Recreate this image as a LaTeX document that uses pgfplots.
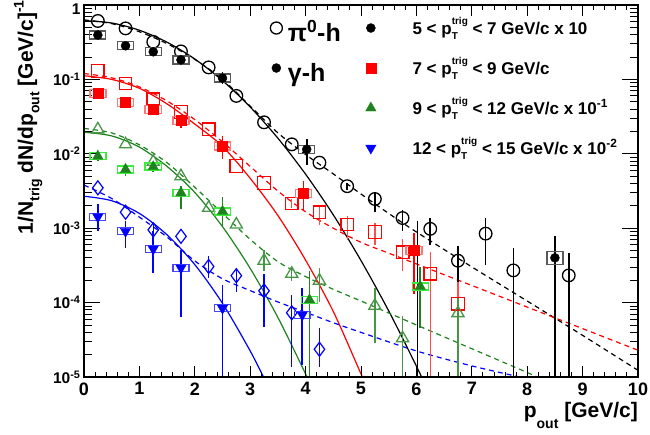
\documentclass[border=0pt]{standalone}
\usepackage{fontspec}
\setmainfont{Liberation Sans}
\usepackage{pgfplots}
\pgfplotsset{compat=1.18}
\definecolor{rgreen}{RGB}{30,130,30}
\definecolor{lgreen}{RGB}{70,150,70}
\definecolor{limebox}{RGB}{60,235,60}
\definecolor{pinkbox}{RGB}{255,120,120}
\definecolor{graybox}{RGB}{90,90,90}
\definecolor{bluebox}{RGB}{70,70,255}
\pgfdeclareplotmark{sysbox}{%
  \pgfpathrectangle{\pgfpoint{-8pt}{-\pgfplotmarksize}}{\pgfpoint{16pt}{2\pgfplotmarksize}}%
  \pgfusepathqstroke}
\newcommand{\ptt}{p\rlap{\raisebox{-0.35em}{\fontsize{10}{10}\selectfont T}}\raisebox{0.55em}{\fontsize{10}{10}\selectfont trig}}
\begin{document}
\begin{tikzpicture}
\begin{axis}[
  name=ax, at={(0,0)}, anchor=south west,
  scale only axis, width=554pt, height=372pt,
  xmin=0, xmax=10, ymin=1e-5, ymax=1, ymode=log,
  axis line style={line width=1.6pt},
  xtick=\empty,
  ytick={1e-5,1e-4,1e-3,1e-2,1e-1,1},
  yticklabels={10\textsuperscript{-5},10\textsuperscript{-4},10\textsuperscript{-3},10\textsuperscript{-2},10\textsuperscript{-1},\smash{\raisebox{-9.5pt}{1}}},
  yticklabel style={font=\fontsize{15.5}{17}\selectfont\bfseries},
  tick align=inside, major tick length=16pt, minor tick length=8pt,
  tick style={black, line width=0.9pt},
  ylabel={1/N\raisebox{-0.3em}{\fontsize{14}{14}\selectfont trig} dN/dp\raisebox{-0.3em}{\fontsize{14}{14}\selectfont out} [GeV/c]\raisebox{0.45em}{\fontsize{14}{14}\selectfont -1}},
  ylabel style={at={(axis description cs:-0.0921,1.0134)}, anchor=base east, inner sep=0pt, font=\fontsize{21}{23}\selectfont\bfseries},
  legend columns=2,
  legend cell align=left,
  legend image code/.code={\draw[#1] plot coordinates {(0pt,0pt)};},
  legend style={at={(axis description cs:0.3364,0.9919)}, anchor=north west,
    draw=none, fill=none, inner sep=0pt, outer sep=0pt, column sep=3.5pt, row sep=0pt,
    nodes={inner sep=0pt, text height=26pt, text depth=14pt, font=\fontsize{17}{18}\selectfont\bfseries}},
]
% ---------- legend ----------
\addlegendimage{only marks, mark=o, mark size=6pt, black, line width=1.3pt}
\addlegendentry[text height=33.4pt, text depth=6.6pt, font=\fontsize{25}{26}\selectfont\bfseries]{\makebox[76.3pt][l]{\hspace*{2pt}π\textsuperscript{0}-h}}
\addlegendimage{only marks, mark=*, mark size=4.5pt, black}
\addlegendentry{\hspace*{33pt}5 < \ptt{} < 7 GeV/c x 10}
\addlegendimage{only marks, mark=*, mark size=4.5pt, black}
\addlegendentry[text height=33.4pt, text depth=6.6pt, font=\fontsize{25}{26}\selectfont\bfseries]{\hspace*{2pt}γ-h}
\addlegendimage{only marks, mark=square*, mark size=5pt, red}
\addlegendentry{\hspace*{33pt}7 < \ptt{} < 9 GeV/c}
\addlegendimage{empty legend}
\addlegendentry{}
\addlegendimage{only marks, mark=triangle*, mark size=6pt, rgreen}
\addlegendentry{\hspace*{33pt}9 < \ptt{} < 12 GeV/c x 10\textsuperscript{-1}}
\addlegendimage{empty legend}
\addlegendentry{}
\addlegendimage{only marks, mark=triangle*, mark size=6pt, blue, mark options={rotate=180}}
\addlegendentry{\hspace*{33pt}12 < \ptt{} < 15 GeV/c x 10\textsuperscript{-2}}

% ---------- fit curves ----------
% black
\addplot[forget plot, black, line width=1.2pt, smooth] table[row sep=\\]{
x y\\ 0 0.617\\ 0.5 0.573\\ 1 0.458\\ 1.5 0.316\\ 2 0.188\\ 2.5 0.0964\\ 3 0.0426\\ 3.5 0.0162\\ 4 0.00532\\ 4.5 0.00151\\ 5 0.000367\\ 5.5 0.0000773\\ 6 0.0000140\\ 6.3 0.0000047\\};
\addplot[forget plot, black, line width=1.2pt, dash pattern=on 5pt off 4pt, smooth] table[row sep=\\]{
x y\\ 0 0.631\\ 0.5 0.562\\ 1 0.437\\ 1.5 0.302\\ 2 0.186\\ 2.5 0.100\\ 3 0.0437\\ 3.5 0.0191\\ 4 0.00977\\ 4.5 0.00537\\ 5 0.00288\\ 5.5 0.00158\\ 6 0.00089\\ 7 0.000302\\ 8 0.000105\\ 9 0.0000363\\ 10 0.0000123\\};
% red
\addplot[forget plot, red, line width=1.2pt, smooth] table[row sep=\\]{
x y\\ 0 0.112\\ 0.5 0.100\\ 1 0.0759\\ 1.5 0.0468\\ 2 0.0251\\ 2.5 0.0126\\ 3 0.00468\\ 3.5 0.00148\\ 4 0.000372\\ 4.5 0.0000759\\ 5 0.0000110\\ 5.1 0.0000076\\};
\addplot[forget plot, red, line width=1.2pt, dash pattern=on 5pt off 4pt, smooth] table[row sep=\\]{
x y\\ 0 0.120\\ 0.5 0.105\\ 1 0.0794\\ 1.5 0.0513\\ 2 0.0288\\ 2.5 0.0145\\ 3 0.00676\\ 3.5 0.00316\\ 4 0.00166\\ 4.5 0.00100\\ 5 0.000646\\ 5.5 0.000462\\ 6 0.000331\\ 7 0.000170\\ 8 0.0000871\\ 9 0.0000447\\ 10 0.0000229\\};
% green
\addplot[forget plot, rgreen, line width=1.2pt, smooth] table[row sep=\\]{
x y\\ 0 0.0195\\ 0.5 0.0174\\ 1 0.0123\\ 1.5 0.00676\\ 2 0.00302\\ 2.5 0.00105\\ 3 0.000288\\ 3.5 0.0000631\\ 4 0.0000110\\ 4.1 0.0000076\\};
\addplot[forget plot, rgreen, line width=1.2pt, dash pattern=on 5pt off 4pt, smooth] table[row sep=\\]{
x y\\ 0 0.0219\\ 0.5 0.0191\\ 1 0.0132\\ 1.5 0.00759\\ 2 0.00355\\ 2.5 0.00158\\ 3 0.000708\\ 3.5 0.000355\\ 4 0.000224\\ 4.5 0.000151\\ 5 0.000105\\ 6 0.0000501\\ 7 0.0000240\\ 8 0.0000115\\ 8.3 0.0000091\\};
% blue
\addplot[forget plot, blue, line width=1.2pt, smooth] table[row sep=\\]{
x y\\ 0 0.00269\\ 0.5 0.00234\\ 1 0.00158\\ 1.5 0.000813\\ 2 0.000324\\ 2.5 0.0000977\\ 3 0.0000224\\ 3.3 0.0000081\\};
\addplot[forget plot, blue, line width=1.2pt, dash pattern=on 5pt off 4pt, smooth] table[row sep=\\]{
x y\\ 0 0.00380\\ 0.5 0.00251\\ 1 0.00141\\ 1.5 0.000759\\ 2 0.000363\\ 2.5 0.000209\\ 3 0.000145\\ 3.5 0.000102\\ 4 0.0000741\\ 4.5 0.0000537\\ 5 0.0000398\\ 6 0.0000224\\ 7 0.0000141\\ 8 0.0000095\\};

% ---------- pi0-h (open markers) ----------
\addplot[forget plot, only marks, mark=o, mark size=6.3pt, black, line width=1.3pt,
  error bars/.cd, y dir=both, y explicit, error mark=none, error bar style={line width=1.6pt, black}]
  table[row sep=\\, x=x, y=y, y error plus=ep, y error minus=em]{
x y ep em\\
0.25 0.61 0 0\\ 0.75 0.485 0 0\\ 1.25 0.32 0 0\\ 1.75 0.238 0 0\\ 2.25 0.145 0 0\\ 2.75 0.060 0 0\\
3.25 0.0265 0 0\\ 3.75 0.0134 0 0\\ 4.25 0.0076 0 0\\ 4.75 0.00367 0.0004 0.0004\\
5.25 0.00247 0.00055 0.0008\\ 5.75 0.00137 0.00041 0.00046\\ 6.25 0.00098 0.00041 0.00038\\
6.75 0.000366 0.000204 0.000365\\ 7.25 0.000845 0.000545 0.000522\\ 7.75 0.000271 0.000277 0.00027\\
8.75 0.000232 0.000237 0.000231\\};
\addplot[forget plot, only marks, mark=square, mark size=6.3pt, red, line width=1.3pt,
  error bars/.cd, y dir=both, y explicit, error mark=none, error bar style={line width=1.3pt, red!70}]
  table[row sep=\\, x=x, y=y, y error plus=ep, y error minus=em]{
x y ep em\\
0.25 0.130 0 0\\ 0.75 0.0881 0 0\\ 1.25 0.054 0 0\\ 1.75 0.0365 0 0\\ 2.25 0.0213 0 0\\ 2.75 0.00683 0 0\\
3.25 0.00404 0 0\\ 3.75 0.00215 0.0003 0.0003\\ 4.25 0.00164 0.00044 0.00052\\ 4.75 0.00112 0.00032 0.00042\\
5.25 0.00089 0.0003 0.00029\\ 5.75 0.000476 0.000244 0.000214\\ 6.25 0.000244 0.000229 0.000243\\
6.75 0.0000964 0.00009 0.0000954\\};
\addplot[forget plot, only marks, mark=triangle, mark size=7pt, lgreen, line width=1.3pt,
  error bars/.cd, y dir=both, y explicit, error mark=none, error bar style={line width=1.3pt, lgreen}]
  table[row sep=\\, x=x, y=y, y error plus=ep, y error minus=em]{
x y ep em\\
0.25 0.0213 0 0\\ 0.75 0.0134 0 0\\ 1.25 0.0078 0 0\\ 1.75 0.0050 0 0\\ 2.25 0.00188 0 0\\ 2.75 0.00112 0 0\\
3.25 0.000366 0.00015 0.0001\\ 3.75 0.000244 0.00006 0.00005\\ 4.25 0.000197 0.000097 0.000094\\
5.25 0.0000906 0.000067 0.000062\\ 5.75 0.0000332 0.0000332 0.0000322\\ 6.75 0.0000722 0.000043 0.0000712\\};
\addplot[forget plot, only marks, mark=diamond, mark size=7pt, blue, line width=1.2pt,
  error bars/.cd, y dir=both, y explicit, error mark=none, error bar style={line width=1.3pt, blue}]
  table[row sep=\\, x=x, y=y, y error plus=ep, y error minus=em]{
x y ep em\\
0.25 0.00349 0 0\\ 0.75 0.00164 0 0\\ 1.25 0.00095 0.0002 0.0002\\ 1.75 0.000778 0 0\\
2.25 0.000306 0.000113 0.00009\\ 2.75 0.00023 0.000046 0.000089\\ 3.25 0.000144 0.000096 0.0000964\\
3.75 0.000073 0.000054 0.0000592\\ 4.25 0.0000236 0.0000221 0.0000098\\};

% ---------- gamma-h systematic boxes ----------
\addplot[forget plot, only marks, mark=sysbox, mark size=4pt, graybox, line width=1.3pt] table[row sep=\\]{
x y\\ 0.25 0.395\\ 0.75 0.283\\ 1.25 0.235\\ 1.75 0.183\\ 2.5 0.104\\ 4.02 0.0115\\};
\addplot[forget plot, only marks, mark=sysbox, mark size=6.5pt, graybox, line width=1.3pt] table[row sep=\\]{
x y\\ 8.5 0.0004\\};
\addplot[forget plot, only marks, mark=sysbox, mark size=4pt, pinkbox, line width=1.5pt] table[row sep=\\]{
x y\\ 0.25 0.0646\\ 0.75 0.0489\\ 1.25 0.0396\\ 1.75 0.0282\\ 2.5 0.0127\\ 3.96 0.00292\\ 5.96 0.000499\\};
\addplot[forget plot, only marks, mark=sysbox, mark size=3.5pt, limebox, line width=1.5pt] table[row sep=\\]{
x y\\ 0.25 0.0093\\ 0.75 0.00617\\ 1.25 0.0067\\ 1.75 0.00299\\ 2.5 0.00169\\ 4.07 0.000109\\ 6.07 0.000165\\};
\addplot[forget plot, only marks, mark=sysbox, mark size=3.5pt, bluebox, line width=1.3pt] table[row sep=\\]{
x y\\ 0.25 0.00142\\ 0.75 0.000909\\ 1.25 0.000526\\ 1.75 0.000292\\ 2.5 0.0000843\\ 3.94 0.0000685\\};

% ---------- gamma-h (filled markers) ----------
\addplot[forget plot, only marks, mark=*, mark size=4.5pt, black,
  error bars/.cd, y dir=both, y explicit, error mark=none, error bar style={line width=1.8pt, black}]
  table[row sep=\\, x=x, y=y, y error plus=ep, y error minus=em]{
x y ep em\\
0.25 0.395 0.02 0.02\\ 0.75 0.283 0.02 0.02\\ 1.25 0.235 0.03 0.03\\ 1.75 0.183 0.03 0.025\\
2.5 0.104 0.02 0.018\\ 4.02 0.0115 0.0041 0.0045\\ 6.02 0.000005 0.001235 0\\ 8.5 0.0004 0.00039 0.000399\\};
\addplot[forget plot, only marks, mark=square*, mark size=5pt, red,
  error bars/.cd, y dir=both, y explicit, error mark=none, error bar style={line width=1.6pt, red}]
  table[row sep=\\, x=x, y=y, y error plus=ep, y error minus=em]{
x y ep em\\
0.25 0.0646 0.005 0.005\\ 0.75 0.0489 0.005 0.005\\ 1.25 0.0396 0.005 0.005\\ 1.75 0.0282 0.004 0.006\\
2.5 0.0127 0.0044 0.0042\\ 3.96 0.00292 0.00135 0.00123\\ 5.96 0.000499 0.00037 0.000367\\};
\addplot[forget plot, only marks, mark=triangle*, mark size=6pt, rgreen,
  error bars/.cd, y dir=both, y explicit, error mark=none, error bar style={line width=1.6pt, rgreen}]
  table[row sep=\\, x=x, y=y, y error plus=ep, y error minus=em]{
x y ep em\\
0.25 0.0093 0.0012 0.0012\\ 0.75 0.00617 0.0012 0.0011\\ 1.25 0.0067 0.001 0.001\\ 1.75 0.00299 0.0007 0.0012\\
2.5 0.00169 0.0009 0.00063\\ 4.07 0.000109 0.000153 0.000108\\ 6.07 0.000165 0.000135 0.000119\\};
\addplot[forget plot, only marks, mark=triangle*, mark size=6pt, blue, mark options={rotate=180},
  error bars/.cd, y dir=both, y explicit, error mark=none, error bar style={line width=1.6pt, blue}]
  table[row sep=\\, x=x, y=y, y error plus=ep, y error minus=em]{
x y ep em\\
0.25 0.00142 0.0007 0.0005\\ 0.75 0.000909 0.00033 0.00037\\ 1.25 0.000526 0.00038 0.000275\\
1.75 0.000292 0.000225 0.000227\\ 2.5 0.0000843 0.00009 0.0000833\\ 3.94 0.0000685 0.00009 0.000054\\};
\end{axis}
% second axis: x ticks with their own length
\begin{axis}[
  at={(0,0)}, anchor=south west,
  scale only axis, width=554pt, height=372pt,
  xmin=0, xmax=10, ymin=1e-5, ymax=1, ymode=log,
  axis line style={line width=1.6pt},
  ytick=\empty,
  xtick={0,1,...,10}, minor x tick num=4,
  tick align=inside, major tick length=11pt, minor tick length=5.5pt,
  tick style={black, line width=0.9pt},
  /pgf/number format/assume math mode=true,
  xticklabel style={font=\fontsize{18}{20}\selectfont\bfseries, yshift=-2pt},
  xlabel={p\raisebox{-0.55em}{\fontsize{14}{14}\selectfont out} [GeV/c]},
  xlabel style={at={(axis description cs:1,0)}, anchor=base east, yshift=-40pt, inner sep=0pt, font=\fontsize{21}{23}\selectfont\bfseries},
]
\end{axis}
\pgfresetboundingbox
\useasboundingbox ([xshift=-84pt,yshift=-57pt]ax.south west) rectangle ([xshift=12pt,yshift=5pt]ax.north east);
\end{tikzpicture}
\end{document}
